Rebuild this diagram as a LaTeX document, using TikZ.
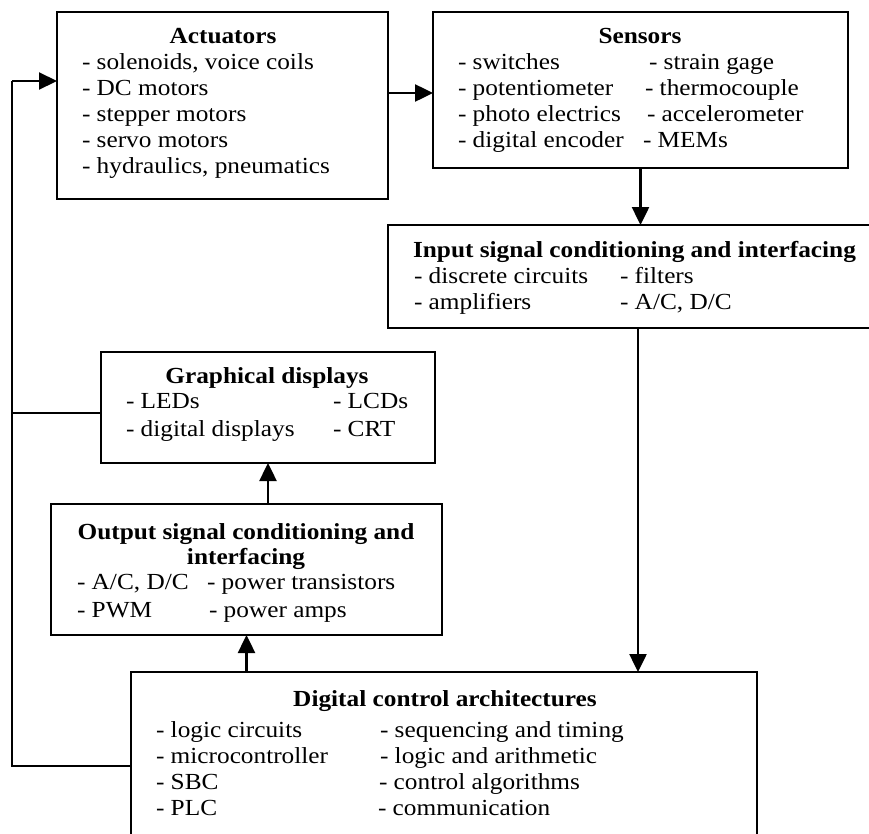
\documentclass[tikz,border=0pt]{standalone}
\usepackage{fontspec}
\setmainfont{Liberation Serif}[FakeStretch=1.1]
\usetikzlibrary{arrows.meta}
\tikzset{
  boxnode/.style={draw, line width=2.5pt, rectangle, inner sep=0pt, outer sep=0pt},
  txt/.style={inner sep=0pt, outer sep=0pt, font=\fontsize{23}{26}\selectfont, anchor=base west},
  ttl/.style={inner sep=0pt, outer sep=0pt, font=\fontsize{23}{26}\selectfont\bfseries, anchor=base},
  arr/.style={line width=2.5pt, -{Triangle[length=18pt,width=17pt]}},
  loopline/.style={line width=2.2pt}
}
\begin{document}
\begin{tikzpicture}[x=1pt,y=-1pt]
\useasboundingbox (0,0) rectangle (869,833);
\clip (0,0) rectangle (869,833);
% boxes
\node[boxnode, minimum width=331pt, minimum height=187pt] (act) at (222.5,105.5) {};
\node[boxnode, minimum width=415pt, minimum height=156pt] (sens) at (640.5,90) {};
\node[boxnode, minimum width=492pt, minimum height=103pt] (inp) at (634,276.5) {};
\node[boxnode, minimum width=334pt, minimum height=111pt] (graph) at (268,407.5) {};
\node[boxnode, minimum width=391pt, minimum height=131pt] (outp) at (246.5,569.5) {};
\node[boxnode, minimum width=626pt, minimum height=173pt] (dig) at (444,758.5) {};
% Actuators
\node[ttl] (actT) at (223,43) {Actuators};
\node[txt] (a1) at (82,69) {- solenoids, voice coils};
\node[txt] (a2) at (82,95) {- DC motors};
\node[txt] (a3) at (82,121) {- stepper motors};
\node[txt] (a4) at (82,147) {- servo motors};
\node[txt] (a5) at (82,173) {- hydraulics, pneumatics};
% Sensors
\node[ttl] (sT) at (640,43) {Sensors};
\node[txt] (s1) at (458,69) {- switches};
\node[txt] (s2) at (458,95) {- potentiometer};
\node[txt] (s3) at (458,121) {- photo electrics};
\node[txt] (s4) at (458,147) {- digital encoder};
\node[txt] (s5) at (649,69) {- strain gage};
\node[txt] (s6) at (645,95) {- thermocouple};
\node[txt] (s7) at (647,121) {- accelerometer};
\node[txt] (s8) at (643,147) {- MEMs};
% Input
\node[ttl] (iT) at (634.5,257) {Input signal conditioning and interfacing};
\node[txt] (i1) at (414,283) {- discrete circuits};
\node[txt] (i2) at (414,309) {- amplifiers};
\node[txt] (i3) at (620,283) {- filters};
\node[txt] (i4) at (620,309) {- A/C, D/C};
% Graphical
\node[ttl] (gT) at (267,383) {Graphical displays};
\node[txt] (g1) at (126,408) {- LEDs};
\node[txt] (g2) at (126,436) {- digital displays};
\node[txt] (g3) at (333,408) {- LCDs};
\node[txt] (g4) at (333,436) {- CRT};
% Output
\node[ttl] (oT1) at (246,539) {Output signal conditioning and};
\node[ttl] (oT2) at (246,564) {interfacing};
\node[txt] (o1) at (77,589) {- A/C, D/C};
\node[txt] (o2) at (77,617) {- PWM};
\node[txt] (o3) at (207,589) {- power transistors};
\node[txt] (o4) at (209,617) {- power amps};
% Digital
\node[ttl] (dT) at (445,706) {Digital control architectures};
\node[txt] (d1) at (156,737) {- logic circuits};
\node[txt] (d2) at (156,763) {- microcontroller};
\node[txt] (d3) at (156,789) {- SBC};
\node[txt] (d4) at (156,815) {- PLC};
\node[txt] (d5) at (380,737) {- sequencing and timing};
\node[txt] (d6) at (380,763) {- logic and arithmetic};
\node[txt] (d7) at (379,789) {- control algorithms};
\node[txt] (d8) at (378,815) {- communication};
% connectors
\coordinate (lg) at (12,413);
\coordinate (ld) at (12,766);
\coordinate (lt) at (12,81);
\draw[arr] (act.east |- 0,93) -- (sens.west |- 0,93);
\draw[arr] (sens.south) -- (sens.south |- inp.north);
\draw[arr] ([xshift=4pt]inp.south) -- ([xshift=4pt]inp.south |- dig.north);
\draw[arr] (graph.south |- outp.north) -- (graph.south);
\draw[arr] (dig.north -| outp.south) -- (outp.south);
\draw[loopline] (graph.west |- lg) -- (lg);
\draw[loopline] (dig.west |- ld) -- (ld) -- (lt);
\draw[arr, line width=2.2pt] (lt) -- (act.west |- lt);
\end{tikzpicture}
\end{document}
